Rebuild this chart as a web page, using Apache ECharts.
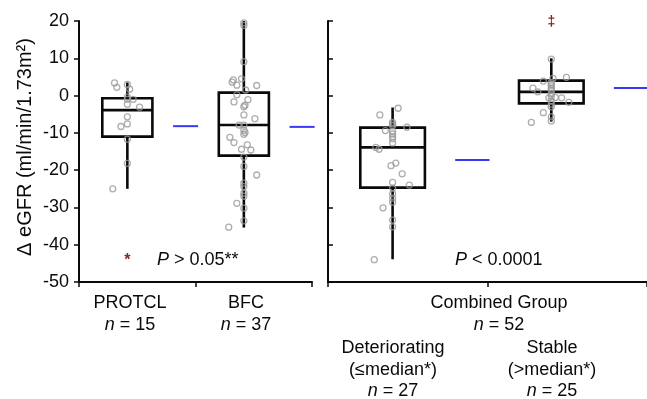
<!DOCTYPE html>
<html>
<head>
<meta charset="utf-8">
<script src="https://cdn.jsdelivr.net/npm/echarts@6/dist/echarts.min.js"></script>
<style>
  html, body { margin: 0; padding: 0; background: #fff; }
  #chart { width: 647px; height: 399px; }
</style>
</head>
<body>
<div id="chart"></div>
<script>
// y 轴刻度
const Y_MIN = -50
const Y_MAX = 20
const Y_STEP = 10

// 箱线统计 [min, Q1, median, Q3, max]
const protclBox = [-25.0, -11.0, -3.9, -0.7, 3.5]
const bfcBox = [-35.4, -16.1, -7.9, 0.8, 20.0]
const detBox = [-43.9, -24.7, -13.9, -8.6, -3.2]
const stableBox = [-7.0, -2.1, 1.0, 4.0, 10.0]

// 均值（蓝线）
const leftMeans = [-8.2, -8.4]
const rightMeans = [-17.3, 2.0]

// 各组散点
const protclVals = [3.4, 2.2, 1.7, 3.0, -1.0, -1.0, -2.3, -3.1, -5.7, -7.6, -8.3, -11.7, -18.2, -25.0, -0.4]
const protclJit = [-0.22, -0.18, 0.04, 0, 0.10, 0, 0, 0.21, 0, 0, -0.11, 0, 0, -0.25, 0]

const bfcVals = [19.5, 18.8, 9.1, 4.5, 4.2, 3.6, 2.8, 2.7, 1.5, 0.2,
  -1.1, -1.7, -2.6, -3.0, -5.2, -6.2, -7.9, -7.9, -9.3, -9.9,
  -11.2, -12.6, -13.2, -14.4, -14.6, -16.5, -19.0, -21.3, -23.5, -24.4,
  -26.2, -27.0, -28.9, -30.2, -33.6, -35.3, -10.4]
const bfcJit = [0, 0, 0, -0.04, -0.18, -0.2, -0.12, 0.22, 0.03, -0.12,
  0.07, -0.17, 0.02, 0, 0, 0.19, -0.08, 0, 0, 0.02,
  -0.24, -0.17, 0.06, -0.04, 0.12, 0, 0, 0.22, 0, 0,
  0, 0, -0.12, 0, 0, -0.26, 0]

const detVals = [-3.4, -5.2, -7.2, -7.6, -8.1, -9.4, -8.5, -9.6, -10.3, -11.0,
  -11.6, -12.7, -13.9, -14.4, -18.8, -18.1, -21.0, -23.3, -24.0, -24.8,
  -26.3, -27.5, -28.6, -30.1, -33.4, -35.2, -44.0]
const detJit = [0.07, -0.16, 0, 0, 0, -0.09, 0.18, 0, 0, 0,
  0, 0, -0.21, -0.17, -0.02, 0.04, 0.12, 0, 0.21, 0,
  0, 0, 0, -0.12, 0, 0, -0.23]

const stableVals = [9.8, 4.9, 3.9, 4.6, 3.5, 3.0, 2.6, 2.0, 1.0, 2.0,
  1.5, 0.5, -0.6, -0.5, -0.6, -0.2, -1.4, -1.8, -2.3, -3.0,
  -4.6, -7.2, -5.7, -6.8]
const stableJit = [0, 0.19, -0.1, 0.02, 0, 0, 0, -0.23, -0.17, 0,
  0, 0, -0.03, 0.05, 0.13, 0, 0, 0.22, 0, 0,
  -0.1, -0.25, 0, 0]

// 离群值
const protclOutlier = -44.0
const stableOutlier = 20.0

// 组在 x 轴上的位置（0..4 的数值轴）
const LEFT_BOX_X = [0.83, 2.83]
const RIGHT_BOX_X = [0.81, 2.80]
const LEFT_MEAN_X = [1.83, 3.83]
const RIGHT_MEAN_X = [1.81, 3.80]

const FONT = "'Liberation Sans', Arial, sans-serif"
const INK = '#0a0a0a'

function boxRenderer(boxW) {
  return (params, api) => {
    const x = api.value(0)
    const l = api.coord([x - boxW / 2, 0])[0]
    const r = api.coord([x + boxW / 2, 0])[0]
    const cx = api.coord([x, 0])[0]
    const y = (i) => api.coord([x, api.value(i)])[1]
    const style = { stroke: INK, lineWidth: 2.6, fill: null }
    return {
      type: 'group',
      children: [
        { type: 'line', shape: { x1: cx, y1: y(5), x2: cx, y2: y(4) }, style },
        { type: 'line', shape: { x1: cx, y1: y(2), x2: cx, y2: y(1) }, style },
        { type: 'rect', shape: { x: l, y: y(4), width: r - l, height: y(2) - y(4) }, style },
        { type: 'line', shape: { x1: l, y1: y(3), x2: r, y2: y(3) }, style }
      ]
    }
  }
}

function meanRenderer(params, api) {
  const x = api.value(0)
  const p1 = api.coord([x - 0.215, api.value(1)])
  const p2 = api.coord([x + 0.215, api.value(1)])
  return {
    type: 'line',
    shape: { x1: p1[0], y1: p1[1], x2: p2[0], y2: p2[1] },
    style: { stroke: '#3a3af5', lineWidth: 2 }
  }
}

function markRenderer(glyph, size, dy) {
  return (params, api) => {
    const p = api.coord([api.value(0), api.value(1)])
    return {
      type: 'text',
      x: p[0],
      y: p[1] + dy,
      style: {
        text: glyph, fill: '#8b2424', align: 'center', verticalAlign: 'middle',
        fontSize: size, fontWeight: 'bold', fontFamily: FONT
      }
    }
  }
}

function points(vals, jit, cx) {
  return vals.map((v, i) => [cx + jit[i], v])
}

function scatterSeries(idx, data) {
  return {
    type: 'scatter',
    xAxisIndex: idx,
    yAxisIndex: idx,
    data,
    symbol: 'circle',
    symbolSize: 6,
    silent: true,
    itemStyle: { color: 'rgba(255,255,255,0)', borderColor: '#9a9a9a', borderWidth: 1.3 },
    z: 3
  }
}

function xAxis(idx) {
  return {
    type: 'value', gridIndex: idx, min: 0, max: 4, interval: 2,
    axisLine: { show: true, onZero: false, lineStyle: { color: INK, width: 2 } },
    axisTick: { show: true, length: 5, lineStyle: { color: INK, width: 1.5 } },
    axisLabel: { show: false },
    splitLine: { show: false }
  }
}

function yAxis(idx) {
  return {
    type: 'value', gridIndex: idx, min: Y_MIN, max: Y_MAX, interval: Y_STEP,
    axisLine: { show: true, lineStyle: { color: INK, width: 2 } },
    axisTick: { show: true, inside: idx === 1, length: 5, lineStyle: { color: INK, width: 1.5 } },
    axisLabel: {
      show: idx === 0, color: INK, fontSize: 18, fontFamily: FONT, margin: 10
    },
    splitLine: { show: false }
  }
}

function text(x, y, str, size) {
  const fs = size || 18
  return {
    type: 'text', x, y,
    style: {
      text: str, fill: INK, fontSize: fs, fontFamily: FONT,
      align: 'center', verticalAlign: 'middle',
      rich: {
        i: { fontStyle: 'italic', fontSize: fs, fontFamily: FONT, fill: INK },
        t: { fontSize: fs, fontFamily: FONT, fill: INK }
      }
    }
  }
}

const yName = text(25, 147, 'Δ eGFR (ml/min/1.73m²)', 20)
yName.rotation = Math.PI / 2

const pLeft = text(157, 260, '{i|P}{t| > 0.05**}')
pLeft.style.align = 'left'
const pRight = text(455, 260, '{i|P}{t| < 0.0001}')
pRight.style.align = 'left'

const chart = echarts.init(document.getElementById('chart'))
chart.setOption({
  backgroundColor: '#ffffff',
  animation: false,
  grid: [
    { left: 79, top: 21, width: 233, height: 261 },
    { left: 328, top: 21, width: 324, height: 261 }
  ],
  xAxis: [xAxis(0), xAxis(1)],
  yAxis: [yAxis(0), yAxis(1)],
  series: [
    {
      type: 'custom', xAxisIndex: 0, yAxisIndex: 0, renderItem: boxRenderer(0.86),
      data: [[LEFT_BOX_X[0], ...protclBox], [LEFT_BOX_X[1], ...bfcBox]],
      encode: { x: 0, y: [1, 2, 3, 4, 5] }, z: 2
    },
    {
      type: 'custom', xAxisIndex: 1, yAxisIndex: 1, renderItem: boxRenderer(0.81),
      data: [[RIGHT_BOX_X[0], ...detBox], [RIGHT_BOX_X[1], ...stableBox]],
      encode: { x: 0, y: [1, 2, 3, 4, 5] }, z: 2
    },
    {
      type: 'custom', xAxisIndex: 0, yAxisIndex: 0, renderItem: meanRenderer,
      data: LEFT_MEAN_X.map((x, i) => [x, leftMeans[i]]), encode: { x: 0, y: 1 }
    },
    {
      type: 'custom', xAxisIndex: 1, yAxisIndex: 1, renderItem: meanRenderer, clip: false,
      data: RIGHT_MEAN_X.map((x, i) => [x, rightMeans[i]]), encode: { x: 0, y: 1 }
    },
    scatterSeries(0, points(protclVals, protclJit, LEFT_BOX_X[0]).concat(points(bfcVals, bfcJit, LEFT_BOX_X[1]))),
    scatterSeries(1, points(detVals, detJit, RIGHT_BOX_X[0]).concat(points(stableVals, stableJit, RIGHT_BOX_X[1]))),
    {
      type: 'custom', xAxisIndex: 0, yAxisIndex: 0, renderItem: markRenderer('*', 16, 1),
      data: [[LEFT_BOX_X[0], protclOutlier]], encode: { x: 0, y: 1 }, z: 4
    },
    {
      type: 'custom', xAxisIndex: 1, yAxisIndex: 1, renderItem: markRenderer('‡', 14, 1),
      data: [[RIGHT_BOX_X[1], stableOutlier]], encode: { x: 0, y: 1 }, z: 4
    }
  ],
  graphic: [
    yName,
    pLeft,
    pRight,
    text(130, 303, 'PROTCL'),
    text(130, 325, '{i|n}{t| = 15}'),
    text(246, 303, 'BFC'),
    text(246, 325, '{i|n}{t| = 37}'),
    text(499, 303, 'Combined Group'),
    text(499, 325, '{i|n}{t| = 52}'),
    text(393, 348, 'Deteriorating'),
    text(393, 370, '(≤median*)'),
    text(393, 391, '{i|n}{t| = 27}'),
    text(552, 348, 'Stable'),
    text(552, 370, '(>median*)'),
    text(552, 391, '{i|n}{t| = 25}')
  ]
})
</script>
</body>
</html>
